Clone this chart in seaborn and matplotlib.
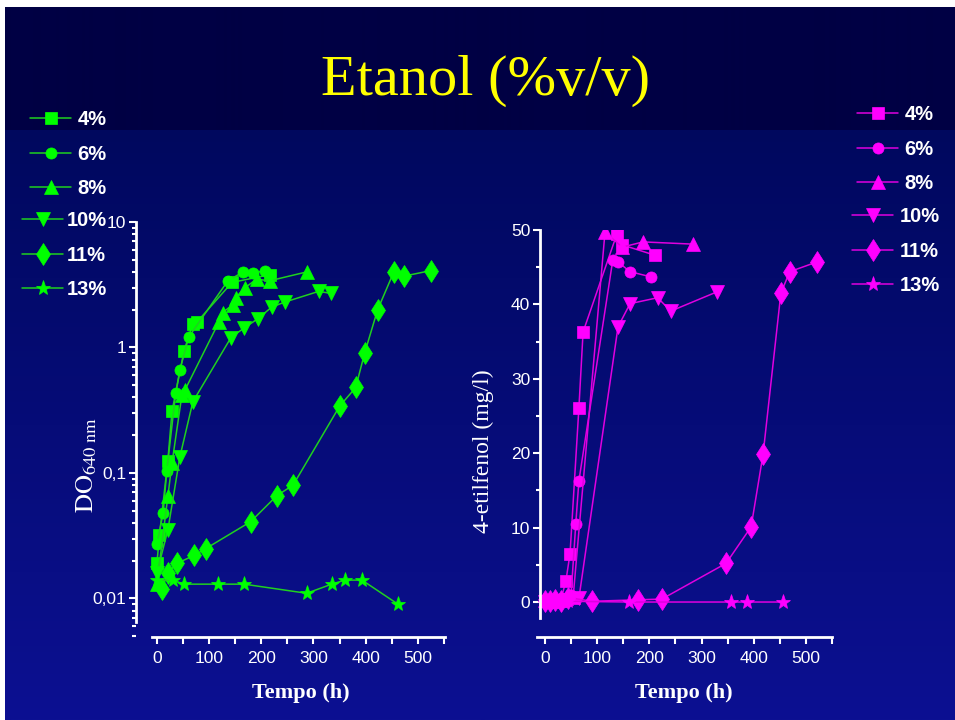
import numpy as np
import matplotlib
matplotlib.use("Agg")
import matplotlib.pyplot as plt
import seaborn as sns
from matplotlib.ticker import FixedLocator, MultipleLocator, LogLocator, NullFormatter

# ==========================
# DATOS
# ==========================
labels = ["4%", "6%", "8%", "10%", "11%", "13%"]

# DO 640 nm (escala log)
t_do_4 = [0, 5, 21, 29, 52, 69, 77, 144, 216]
do_4 = [0.019, 0.032, 0.125, 0.31, 0.94, 1.55, 1.6, 3.3, 3.8]
t_do_6 = [0, 12, 19, 36, 44, 61, 136, 165, 184, 207]
do_6 = [0.027, 0.048, 0.104, 0.43, 0.66, 1.21, 3.4, 4.0, 3.9, 4.1]
t_do_8 = [0, 21, 29, 48, 54, 119, 126, 146, 151, 169, 191, 216, 287]
do_8 = [0.013, 0.065, 0.12, 0.42, 0.46, 1.6, 1.9, 2.2, 2.5, 3.0, 3.5, 3.4, 4.0]
t_do_10 = [0, 21, 44, 69, 142, 167, 194, 220, 245, 310, 333]
do_10 = [0.016, 0.035, 0.134, 0.37, 1.2, 1.43, 1.7, 2.1, 2.3, 2.8, 2.7]
t_do_11 = [10, 21, 38, 71, 94, 180, 230, 261, 350, 381, 398, 423, 454, 473, 525]
do_11 = [0.012, 0.016, 0.019, 0.022, 0.025, 0.041, 0.066, 0.080, 0.34, 0.48, 0.90, 2.0, 4.0, 3.7, 4.1]
t_do_13 = [0, 31, 52, 117, 167, 287, 335, 360, 393, 462]
do_13 = [0.014, 0.014, 0.013, 0.013, 0.013, 0.011, 0.013, 0.014, 0.014, 0.009]

# 4-etilfenol (mg/l)
t_ef_4 = [0, 10, 20, 30, 40, 48, 65, 73, 138, 148, 211]
ef_4 = [0.2, 0.1, 0.3, 0.2, 2.8, 6.5, 26.1, 36.3, 49.5, 48.0, 46.6]
t_ef_6 = [0, 10, 20, 30, 40, 50, 59, 65, 130, 140, 163, 203]
ef_6 = [0.1, 0.3, 0.2, 0.1, 0.5, 1.0, 10.5, 16.3, 46.0, 45.7, 44.4, 43.7]
t_ef_8 = [0, 10, 20, 30, 40, 54, 115, 148, 188, 284]
ef_8 = [0.3, 0.1, 0.2, 0.4, 0.5, 0.7, 49.7, 47.7, 48.4, 48.1]
t_ef_10 = [0, 10, 20, 30, 40, 65, 140, 163, 216, 241, 330]
ef_10 = [0.0, 0.2, 0.1, 0.2, 0.3, 0.5, 37.0, 40.1, 40.9, 39.1, 41.7]
t_ef_11 = [0, 10, 20, 30, 45, 90, 178, 224, 347, 395, 418, 452, 469, 521]
ef_11 = [0.2, 0.1, 0.3, 0.1, 0.6, 0.1, 0.3, 0.4, 5.2, 10.1, 19.9, 41.5, 44.4, 45.7]
t_ef_13 = [0, 10, 20, 30, 45, 161, 356, 387, 456]
ef_13 = [0.1, 0.2, 0.0, 0.2, 0.1, 0.0, 0.0, 0.0, 0.0]

do_series = [(t_do_4, do_4), (t_do_6, do_6), (t_do_8, do_8),
             (t_do_10, do_10), (t_do_11, do_11), (t_do_13, do_13)]
ef_series = [(t_ef_4, ef_4), (t_ef_6, ef_6), (t_ef_8, ef_8),
             (t_ef_10, ef_10), (t_ef_11, ef_11), (t_ef_13, ef_13)]

markers = ["s", "o", "^", "v", "d", "*"]
msizes = [8, 8, 10, 10, 11.5, 11]

GREEN = "#00ff00"
GREEN_LINE = "#1fd01f"
MAGENTA = "#ff00ff"
MAGENTA_LINE = "#e000e0"

# ==========================
# ESTILO
# ==========================
sns.set_theme(style="ticks")
plt.rcParams["font.family"] = ["Liberation Sans", "DejaVu Sans"]
plt.rcParams["mathtext.fontset"] = "stix"
plt.rcParams["axes.facecolor"] = "none"

fig = plt.figure(figsize=(9.55, 7.2), dpi=100)

# fondo degradado
H, W = 720, 955
img = np.zeros((H, W, 3))
img[:130] = np.array([0, 0, 68]) / 255
c1 = np.array([0, 8, 94]) / 255
c2 = np.array([12, 16, 146]) / 255
frac = np.linspace(0, 1, H - 130)[:, None]
img[130:] = (c1 * (1 - frac) + c2 * frac)[:, None, :]
img[:7, :] = 1
img[:, :5] = 1
bg = fig.add_axes([0, 0, 1, 1], zorder=-10)
bg.imshow(img, aspect="auto", extent=[0, 1, 0, 1])
bg.axis("off")

fig.text(0.508, 0.888, "Etanol (%v/v)", color="#ffff00", fontsize=42,
         family="Liberation Serif", ha="center", va="center")

ax1 = fig.add_axes([136 / 955, 83 / 720, 310 / 955, 415 / 720])
ax2 = fig.add_axes([537 / 955, 83 / 720, 295 / 955, 407 / 720])

ax1.set_yscale("log")

for (t, v), mk, ms, lab in zip(do_series, markers, msizes, labels):
    sns.lineplot(x=t, y=v, ax=ax1, sort=False, estimator=None, color=GREEN_LINE,
                 marker=mk, markersize=ms, markerfacecolor=GREEN,
                 markeredgecolor=GREEN, markeredgewidth=0.5, linewidth=1.1,
                 label=lab)

for (t, v), mk, ms, lab in zip(ef_series, markers, msizes, labels):
    sns.lineplot(x=t, y=v, ax=ax2, sort=False, estimator=None, color=MAGENTA_LINE,
                 marker=mk, markersize=ms, markerfacecolor=MAGENTA,
                 markeredgecolor=MAGENTA, markeredgewidth=0.5, linewidth=1.1,
                 label=lab)

for ax in (ax1, ax2):
    if ax.get_legend() is not None:
        ax.get_legend().remove()
    for s in ("top", "right"):
        ax.spines[s].set_visible(False)
    for s in ("left", "bottom"):
        ax.spines[s].set_color("white")
        ax.spines[s].set_linewidth(2)
    ax.xaxis.set_major_locator(MultipleLocator(100))
    ax.xaxis.set_minor_locator(MultipleLocator(50))
    ax.tick_params(axis="both", which="both", colors="white", direction="out",
                   width=1.5, labelsize=12.5)
    ax.tick_params(axis="x", which="both", length=5, pad=5)
    ax.tick_params(axis="y", which="major", length=5, pad=2)
    ax.tick_params(axis="y", which="minor", length=3)
    ax.grid(False)

# eje izquierdo
ax1.set_xlim(-40, 554)
ax1.set_ylim(0.00493, 10)
ax1.spines["left"].set_bounds(0.0065, 10)
ax1.spines["bottom"].set_bounds(-10, 552)
ax1.yaxis.set_major_locator(FixedLocator([0.01, 0.1, 1, 10]))
ax1.set_yticklabels(["0,01", "0,1", "1", "10"])
ax1.yaxis.set_minor_locator(LogLocator(base=10, subs=np.arange(2, 10)))
ax1.yaxis.set_minor_formatter(NullFormatter())
ax1.set_xlabel("Tempo (h)", color="white", fontsize=16, fontweight="bold",
               family="Liberation Serif")
ax1.xaxis.set_label_coords(0.532, -0.111)
ax1.set_ylabel(r"$\mathrm{DO}_{\mathrm{640\ nm}}$", color="white", fontsize=19)
ax1.yaxis.set_label_coords(-0.118, 0.414)

# eje derecho
ax2.set_xlim(-15.3, 550)
ax2.set_ylim(-4.7, 50)
ax2.spines["left"].set_position(("data", -9.6))
ax2.spines["left"].set_bounds(-2.2, 50)
ax2.spines["bottom"].set_bounds(-15.3, 550)
ax2.yaxis.set_major_locator(MultipleLocator(10))
ax2.yaxis.set_minor_locator(MultipleLocator(5))
ax2.set_xlabel("Tempo (h)", color="white", fontsize=16, fontweight="bold",
               family="Liberation Serif")
ax2.xaxis.set_label_coords(0.498, -0.113)
ax2.set_ylabel("4-etilfenol (mg/l)", color="white", fontsize=17,
               family="Liberation Serif")
ax2.yaxis.set_label_coords(-0.145, 0.457)

# leyendas (en dos bloques, como en la diapositiva original)
leg_kw = dict(frameon=False, labelcolor="white", borderpad=0, borderaxespad=0,
              handlelength=2.05, labelspacing=0.78,
              prop={"weight": "bold", "size": 14.5})
h1 = ax1.get_lines()
h2 = ax2.get_lines()
fig.legend(h1[:3], labels[:3], loc="upper left", handletextpad=0.3,
           bbox_to_anchor=(30 / 955, 1 - 110 / 720), **leg_kw)
fig.legend(h1[3:], labels[3:], loc="upper left", handletextpad=0.15,
           bbox_to_anchor=(22 / 955, 1 - 211 / 720), **leg_kw)
fig.legend(h2[:3], labels[:3], loc="upper left", handletextpad=0.3,
           bbox_to_anchor=(857 / 955, 1 - 105 / 720), **leg_kw)
fig.legend(h2[3:], labels[3:], loc="upper left", handletextpad=0.3,
           bbox_to_anchor=(852 / 955, 1 - 207 / 720), **leg_kw)

fig.savefig("out.png", dpi=100)
